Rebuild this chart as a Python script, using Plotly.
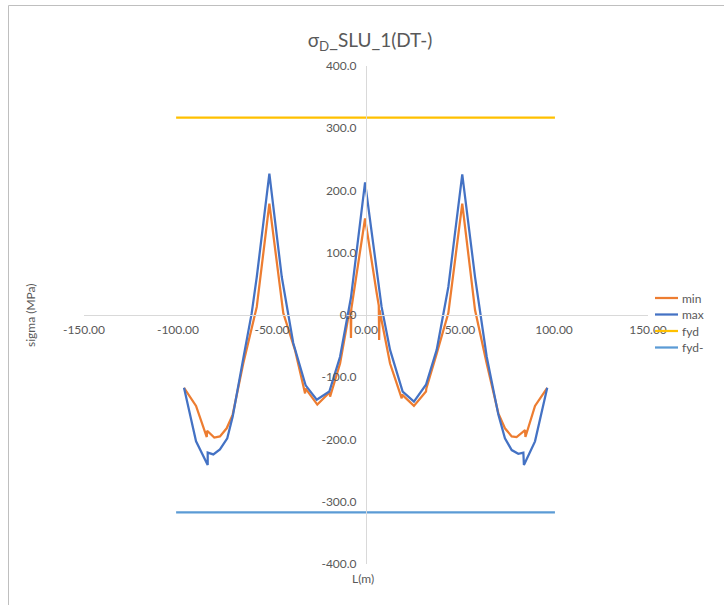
import plotly.graph_objects as go

# ---- data ----
max_x = [-96.8, -90.4, -84.2, -84.2, -81.2, -77.7, -73.8, -70.9, -65.3, -60.8, -58.1,
         -51.4, -44.8, -38.7, -32.4, -32.1, -26.2, -19.5, -13.8, -8.3, -8.0, -0.5,
         7.5, 7.8, 8.3, 12.8, 19.5, 25.5, 31.9, 37.6, 43.8, 51.2, 58.0, 64.2, 70.4,
         73.9, 77.5, 81.0, 83.7, 84.0, 89.9, 96.4]
max_y = [-117, -203, -241, -221, -224, -216, -198, -163, -70, 3, 61,
         227, 61, -45, -110, -113, -136, -123, -67, 20, 28, 213,
         30, 20, 13, -56, -123, -139, -112, -56, 45, 226, 61, -67, -160,
         -198, -217, -223, -221, -241, -203, -117]

min_x = [-96.8, -90.4, -84.7, -84.5, -80.7, -77.7, -74.1, -70.9, -65.3, -58.1,
         -51.4, -44.0, -37.8, -32.4, -32.2, -25.9, -19.3, -19.1, -13.8, -9.0, -8.2,
         -8.0, -7.8, -0.5, 5.7, 6.8, 7.0, 7.2, 12.8, 19.0, 19.2, 25.5, 31.9, 32.1,
         37.6, 43.8, 51.2, 58.0, 64.2, 70.4, 73.9, 77.5, 80.1, 84.6, 84.8, 89.9, 96.4]
min_y = [-117, -146, -196, -186, -197, -195, -182, -160, -78, 13,
         179, 3, -56, -126, -118, -144, -124, -131, -78, 3, 8,
         -37, 10, 155, 35, 15, -40, 8, -78, -134, -128, -146, -123, -118,
         -62, 3, 179, 8, -78, -158, -182, -195, -196, -185, -196, -146, -117]

fyd_x = [-101, 100.5]
fyd_y = [317, 317]
fydm_y = [-317, -317]

x_ticks = [-150, -100, -50, 0, 50, 100, 150]
x_ticktext = ["-150.00", "-100.00", "-50.00", "0.00", "50.00", "100.00", "150.00"]
y_ticks = [-400, -300, -200, -100, 0, 100, 200, 300, 400]
y_ticktext = ["-400.0", "-300.0", "-200.0", "-100.0", "0.0", "100.0", "200.0", "300.0", "400.0"]

series_names = ["min", "max", "fyd", "fyd-"]
series_colors = ["#ED7D31", "#4472C4", "#FFC000", "#5B9BD5"]

FONT = "Lato"
GREY = "#595959"

fig = go.Figure()
for nm, xs, ys, col in zip(series_names,
                           [min_x, max_x, fyd_x, fyd_x],
                           [min_y, max_y, fyd_y, fydm_y],
                           series_colors):
    fig.add_trace(go.Scatter(x=xs, y=ys, mode="lines", name=nm, showlegend=False,
                             line=dict(color=col, width=2.25)))

W, H = 724, 605
L, R, T, B = 84, 76, 66, 41
pw, ph = W - L - R, H - T - B

def px2x(p):
    return (p - L) / pw

def px2y(p):
    return (H - B - p) / ph

fig.update_layout(
    width=W, height=H,
    margin=dict(l=L, r=R, t=T, b=B, autoexpand=False),
    paper_bgcolor="white", plot_bgcolor="white",
    font=dict(family=FONT, size=12, color=GREY),
    title=dict(text="σ<sub>D</sub>_SLU_1(DT-)", x=px2x(370), xref="paper",
               xanchor="center", y=1 - 40 / H, yanchor="middle",
               font=dict(family=FONT, size=19, color=GREY)),
    xaxis=dict(range=[-150, 150], anchor="free", position=0.5,
               showgrid=False, zeroline=False, showline=True,
               linecolor="#D9D9D9", linewidth=1, automargin=False,
               tickvals=x_ticks, ticktext=x_ticktext, ticks="",
               ticklabelstandoff=4,
               tickfont=dict(family=FONT, size=12, color=GREY)),
    yaxis=dict(range=[-400, 400], anchor="free", position=0.5,
               showgrid=False, zeroline=False, showline=True,
               linecolor="#D9D9D9", linewidth=1, automargin=False,
               tickvals=y_ticks, ticktext=y_ticktext, ticks="",
               ticklabelstandoff=7,
               tickfont=dict(family=FONT, size=12, color=GREY)),
    showlegend=False,
)

# legend (drawn as key lines + real text labels)
leg_y = [298, 314.5, 331, 347.5]
for nm, col, yy in zip(series_names, series_colors, leg_y):
    fig.add_shape(type="line", xref="paper", yref="paper",
                  x0=px2x(655), x1=px2x(678), y0=px2y(yy), y1=px2y(yy),
                  line=dict(color=col, width=2.25))
    fig.add_annotation(text=nm, x=px2x(680), y=px2y(yy), xref="paper", yref="paper",
                       xanchor="left", yanchor="middle", showarrow=False,
                       font=dict(family=FONT, size=12, color=GREY))

fig.add_annotation(text="sigma (MPa)", x=px2x(30), y=px2y(315), xref="paper", yref="paper",
                   xanchor="center", yanchor="middle",
                   showarrow=False, textangle=-90, font=dict(family=FONT, size=12, color=GREY))
fig.add_annotation(text="L(m)", x=px2x(363), y=px2y(578), xref="paper", yref="paper",
                   xanchor="center", yanchor="middle",
                   showarrow=False, font=dict(family=FONT, size=12, color=GREY))

fig.add_shape(type="rect", xref="paper", yref="paper",
              x0=px2x(8.5), x1=px2x(730), y0=px2y(610), y1=px2y(5.5),
              line=dict(color="#BFBFBF", width=1), fillcolor="rgba(0,0,0,0)", layer="below")

fig.write_html("out.html", config={"displayModeBar": False},
               post_script="document.body.style.margin='0px';document.body.style.padding='0px';")
